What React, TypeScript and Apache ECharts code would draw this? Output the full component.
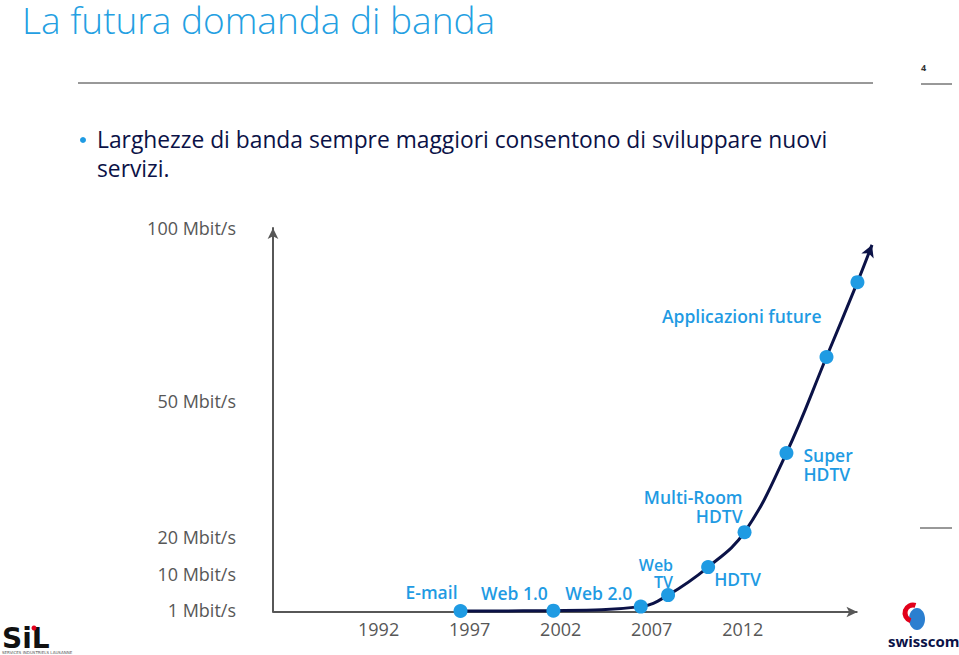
import React, { useEffect, useRef } from 'react';
import * as echarts from 'echarts';

const years = [1996.5, 2001.6, 2006.4, 2007.9, 2010.1, 2012.1, 2014.4, 2016.6, 2018.3, 2019.1];
const levels = [0.26, 0.35, 1.4, 4.4, 11.7, 20.8, 41.4, 66.4, 85.9, 95.6];
const pointNames = ['E-mail', 'Web 1.0', 'Web 2.0', 'Web\nTV', 'HDTV', 'Multi-Room\nHDTV', 'Super\nHDTV', 'Applicazioni future', '', ''];
const xTickYears = [1992, 1997, 2002, 2007, 2012];
const xAxisStart = 1986.2;
const xAxisEnd = 2018.3;
const yTickLevels = [0.5, 10, 19.5, 55, 100];
const yTickLabels = ['1 Mbit/s', '10 Mbit/s', '20 Mbit/s', '50 Mbit/s', '100 Mbit/s'];

const titleText = 'La futura domanda di banda';
const bulletLines = ['Larghezze di banda sempre maggiori consentono di sviluppare nuovi', 'servizi.'];
const pageNumber = '4';

const labelStyles: any[] = [
  { offset: [-29, -19], align: 'center' },
  { offset: [-39, -18], align: 'center' },
  { offset: [-42, -14], align: 'center' },
  { offset: [5, -22], align: 'right', lineHeight: 17, fontSize: 16 },
  { offset: [6, 12], align: 'left' },
  { offset: [-2, -26], align: 'right', lineHeight: 19 },
  { offset: [17, 11], align: 'left', lineHeight: 19 },
  { offset: [-5, -41], align: 'right' },
  null,
  null,
];

const BLUE = '#1f9be3';
const NAVY = '#0b1247';
const GRAY = '#575757';
const FONT = '"Open Sans"';

export default function App() {
  const ref = useRef<HTMLDivElement>(null);
  useEffect(() => {
    if (!ref.current) return;
    const chart = echarts.init(ref.current, null, { renderer: 'svg' });
    const n = years.length;
    const data = years.map((x, i) => {
      const ls = labelStyles[i];
      const isTip = i === n - 1;
      return {
        value: [x, levels[i]],
        symbol: isTip ? 'arrow' : 'circle',
        symbolSize: isTip ? [10, 12] : 14,
        symbolRotate: isTip ? -22 : 0,
        itemStyle: { color: isTip ? NAVY : BLUE },
        label: ls
          ? {
              show: true,
              formatter: pointNames[i],
              position: 'inside',
              offset: ls.offset,
              align: ls.align,
              verticalAlign: 'middle',
              lineHeight: ls.lineHeight || 18,
              color: BLUE,
              fontFamily: FONT,
              fontWeight: 600,
              fontSize: ls.fontSize || 17.5,
            }
          : { show: false },
      };
    });

    chart.setOption({
      animation: false,
      backgroundColor: '#ffffff',
      grid: { left: 273, right: 87, top: 228, bottom: 43, containLabel: false },
      xAxis: {
        type: 'value',
        min: xAxisStart,
        max: years[n - 1],
        axisLine: { show: false },
        axisTick: { show: false },
        splitLine: { show: false },
        axisLabel: {
          customValues: xTickYears,
          formatter: (v: number) => String(v),
          color: GRAY,
          fontFamily: FONT,
          fontSize: 18,
          margin: 8,
        },
      },
      yAxis: {
        type: 'value',
        min: 0,
        max: 100,
        axisLine: { show: true, symbol: ['none', 'arrow'], symbolSize: [8, 11], lineStyle: { color: GRAY, width: 2 } },
        axisTick: { show: false },
        splitLine: { show: false },
        axisLabel: {
          customValues: yTickLevels,
          formatter: (v: number) => {
            const idx = yTickLevels.indexOf(v);
            return idx >= 0 ? yTickLabels[idx] : '';
          },
          color: GRAY,
          fontFamily: FONT,
          fontSize: 18,
          margin: 37,
        },
      },
      series: [
        {
          type: 'line',
          data,
          smooth: 0.4,
          clip: false,
          lineStyle: { color: NAVY, width: 3 },
          z: 3,
          markLine: {
            silent: true,
            z: 1,
            label: { show: false },
            lineStyle: { color: GRAY, width: 2, type: 'solid' },
            symbolSize: [8, 11],
            data: [
              [
                { coord: [xAxisStart, 0], symbol: 'none' },
                { coord: [xAxisEnd, 0], symbol: 'arrow' },
              ],
            ],
          },
        },
      ],
      graphic: [
        {
          type: 'text',
          x: 22,
          y: 19,
          style: { text: titleText, fill: '#249fe2', font: `300 37px ${FONT}`, verticalAlign: 'middle', lineHeight: 36 },
        },
        { type: 'line', shape: { x1: 78, y1: 83, x2: 873, y2: 83 }, style: { stroke: '#333', lineWidth: 1 } },
        { type: 'line', shape: { x1: 921, y1: 84, x2: 952, y2: 84 }, style: { stroke: '#333', lineWidth: 1 } },
        { type: 'line', shape: { x1: 920, y1: 528, x2: 952, y2: 528 }, style: { stroke: '#333', lineWidth: 1 } },
        {
          type: 'text',
          x: 921,
          y: 63,
          style: { text: pageNumber, fill: '#333', font: `bold 9px ${FONT}` },
        },
        { type: 'circle', shape: { cx: 83, cy: 140, r: 3 }, style: { fill: BLUE } },
        {
          type: 'text',
          x: 97,
          y: 139,
          style: { text: bulletLines[0], fill: NAVY, font: `22.8px ${FONT}`, verticalAlign: 'middle' },
        },
        {
          type: 'text',
          x: 97,
          y: 168,
          style: { text: bulletLines[1], fill: NAVY, font: `22.8px ${FONT}`, verticalAlign: 'middle' },
        },
        // SIL logo
        {
          type: 'text',
          x: 2,
          y: 638,
          style: { text: 'SiL', fill: '#111', font: 'bold 28px "DejaVu Sans"', verticalAlign: 'middle', lineHeight: 22 },
        },
        { type: 'circle', shape: { cx: 34, cy: 628, r: 2.5 }, style: { fill: '#e2001a' } },
        {
          type: 'text',
          x: 2,
          y: 652,
          style: { text: 'SERVICES INDUSTRIELS LAUSANNE', fill: '#555', font: '4px "DejaVu Sans"', verticalAlign: 'middle', lineHeight: 4 },
        },
        // swisscom logo
        { type: 'ellipse', shape: { cx: 917, cy: 619, rx: 8, ry: 11 }, style: { fill: '#2b7fd0' } },
        { type: 'arc', shape: { cx: 913, cy: 613, r: 8, startAngle: Math.PI * 0.6, endAngle: Math.PI * 1.6 }, style: { stroke: '#e2001a', lineWidth: 5, fill: 'none' } },
        {
          type: 'text',
          x: 888,
          y: 633,
          style: { text: 'swisscom', fill: NAVY, font: `bold 15px ${FONT}` },
        },
      ],
    });
    return () => chart.dispose();
  }, []);
  return <div ref={ref} style={{ position: 'fixed', left: 0, top: 0, width: 959, height: 655 }} />;
}
